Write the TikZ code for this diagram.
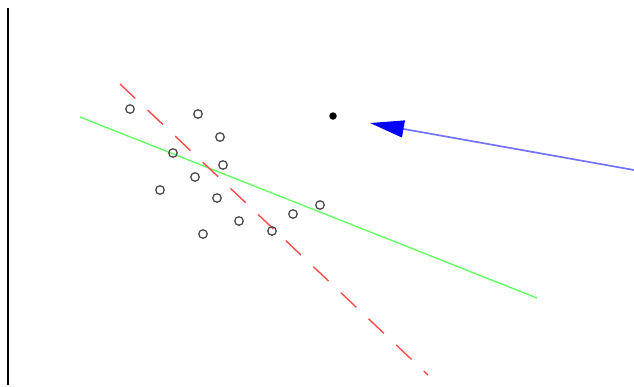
\documentclass[tikz,border=0pt]{standalone}
\usetikzlibrary{arrows.meta}
\begin{document}
\begin{tikzpicture}[x=1pt,y=-1pt,
  pt/.style={circle,draw=black!70,line width=1.3pt,minimum size=8.5pt,inner sep=0pt},
  dotpt/.style={circle,fill=black,minimum size=7.5pt,inner sep=0pt}]
\useasboundingbox (0,0) rectangle (634,386);
\fill[white] (0,0) rectangle (634,386);
% axis line
\coordinate (ax1) at (8,8);
\coordinate (ax2) at (8,385);
\draw[line width=2pt,black] (ax1) -- (ax2);
% green line
\coordinate (g1) at (80,117);
\coordinate (g2) at (537,298);
\draw[green!60,line width=1.4pt] (g1) -- (g2);
% red dashed line
\coordinate (r1) at (120,84);
\coordinate (r2) at (428,375);
\draw[red!70,line width=1.4pt,dash pattern=on 21pt off 17pt] (r1) -- (r2);
% points
\node[pt] (p1) at (130,109) {};
\node[pt] (p2) at (198,114) {};
\node[pt] (p3) at (220,137) {};
\node[pt] (p4) at (173,153) {};
\node[pt] (p5) at (223,165) {};
\node[pt] (p6) at (195,177) {};
\node[pt] (p7) at (160,190) {};
\node[pt] (p8) at (217,198) {};
\node[pt] (p9) at (239,221) {};
\node[pt] (p10) at (203,234) {};
\node[pt] (p11) at (272,231) {};
\node[pt] (p12) at (293,214) {};
\node[pt] (p13) at (320,205) {};
\node[dotpt] (q) at (333,116) {};
% blue arrow
\coordinate (b1) at (634,170);
\coordinate (b2) at (370,123);
\draw[blue!55,line width=1.7pt,-{Triangle[length=34pt,width=17pt,color=blue]}] (b1) -- (b2);
\end{tikzpicture}
\end{document}
